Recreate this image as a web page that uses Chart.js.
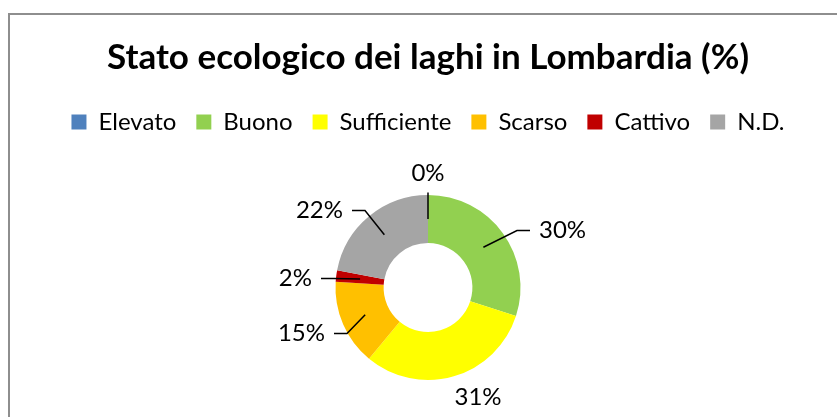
<!DOCTYPE html>
<html>
<head>
<meta charset="utf-8">
<script src="https://cdn.jsdelivr.net/npm/chart.js@4"></script>
<style>
  html, body { margin: 0; padding: 0; background: #fff; }
  #frame { position: absolute; left: 8px; top: 13px; width: 1000px; height: 1000px; border: 2px solid #8e8e8e; box-sizing: border-box; }
  #ecoChart { position: absolute; left: 0; top: 0; }
</style>
</head>
<body>
<div id="frame"></div>
<canvas id="ecoChart" width="837" height="417"></canvas>
<script>
const classLabels = ['Elevato', 'Buono', 'Sufficiente', 'Scarso', 'Cattivo', 'N.D.'];
const lakeShares = [0, 30, 31, 15, 2, 22];
const sliceColors = ['#4F81BD', '#92D050', '#FFFF00', '#FFC000', '#C00000', '#A5A5A5'];
const chartTitle = 'Stato ecologico dei laghi in Lombardia (%)';

// posizione delle etichette rispetto al centro della ciambella
const labelLayout = [
    {dx: 0, dy: -114, align: 'center', line: 'up'},
    {dx: 111, dy: -57, align: 'left', line: 'elbow'},
    {dx: 50, dy: 110, align: 'center', line: 'none'},
    {dx: -103, dy: 46, align: 'right', line: 'elbow'},
    {dx: -116, dy: -9, align: 'right', line: 'elbow'},
    {dx: -85, dy: -77, align: 'right', line: 'elbow'}
];

const FONT = 'Lato';

// spazio in piu sotto la legenda
const legendGap = {
    id: 'legendGap',
    beforeInit(chart) {
        const fit = chart.legend.fit;
        chart.legend.fit = function () { fit.call(this); this.height += 51; };
    }
};

// etichette % con linee di richiamo (stile Excel)
const sliceLabels = {
    id: 'sliceLabels',
    afterDatasetsDraw(chart) {
        const ctx = chart.ctx;
        const total = lakeShares.reduce((a, b) => a + b, 0);
        const meta = chart.getDatasetMeta(0);
        ctx.save();
        ctx.font = '24px ' + FONT;
        ctx.fillStyle = '#000';
        ctx.strokeStyle = '#000';
        ctx.lineWidth = 1.5;
        ctx.textBaseline = 'middle';
        meta.data.forEach((arc, i) => {
            const p = arc.getProps(['x', 'y', 'startAngle', 'endAngle', 'innerRadius', 'outerRadius'], true);
            const mid = (p.startAngle + p.endAngle) / 2;
            const r = (p.innerRadius + p.outerRadius) / 2;
            const ax = p.x + Math.cos(mid) * r;
            const ay = p.y + Math.sin(mid) * r;
            const L = labelLayout[i];
            const tx = p.x + L.dx, ty = p.y + L.dy;
            ctx.beginPath();
            if (L.line === 'up') {
                ctx.moveTo(ax, ay);
                ctx.lineTo(ax, ty + 19);
            } else if (L.line === 'elbow') {
                const s = L.align === 'left' ? -1 : 1;
                ctx.moveTo(ax, ay);
                ctx.lineTo(tx + s * 22, ty);
                ctx.lineTo(tx + s * 9, ty);
            }
            ctx.stroke();
            ctx.textAlign = L.align;
            ctx.fillText(Math.round(lakeShares[i] / total * 100) + '%', tx, ty);
        });
        ctx.restore();
    }
};

new Chart(document.getElementById('ecoChart'), {
    type: 'doughnut',
    data: {
        labels: classLabels,
        datasets: [{
            data: lakeShares,
            backgroundColor: sliceColors,
            borderWidth: 0
        }]
    },
    options: {
        responsive: false,
        animation: false,
        cutout: '48%',
        layout: { padding: { left: 19, top: 27, bottom: 37 } },
        plugins: {
            title: {
                display: true,
                text: chartTitle,
                color: '#000',
                font: { family: FONT, size: 35, weight: 'bold' },
                padding: { top: 10, bottom: 11 }
            },
            legend: {
                position: 'top',
                labels: {
                    color: '#000',
                    font: { family: FONT, size: 24 },
                    boxWidth: 15,
                    boxHeight: 15,
                    padding: 20
                }
            },
            tooltip: { enabled: false }
        }
    },
    plugins: [legendGap, sliceLabels]
});
</script>
</body>
</html>
